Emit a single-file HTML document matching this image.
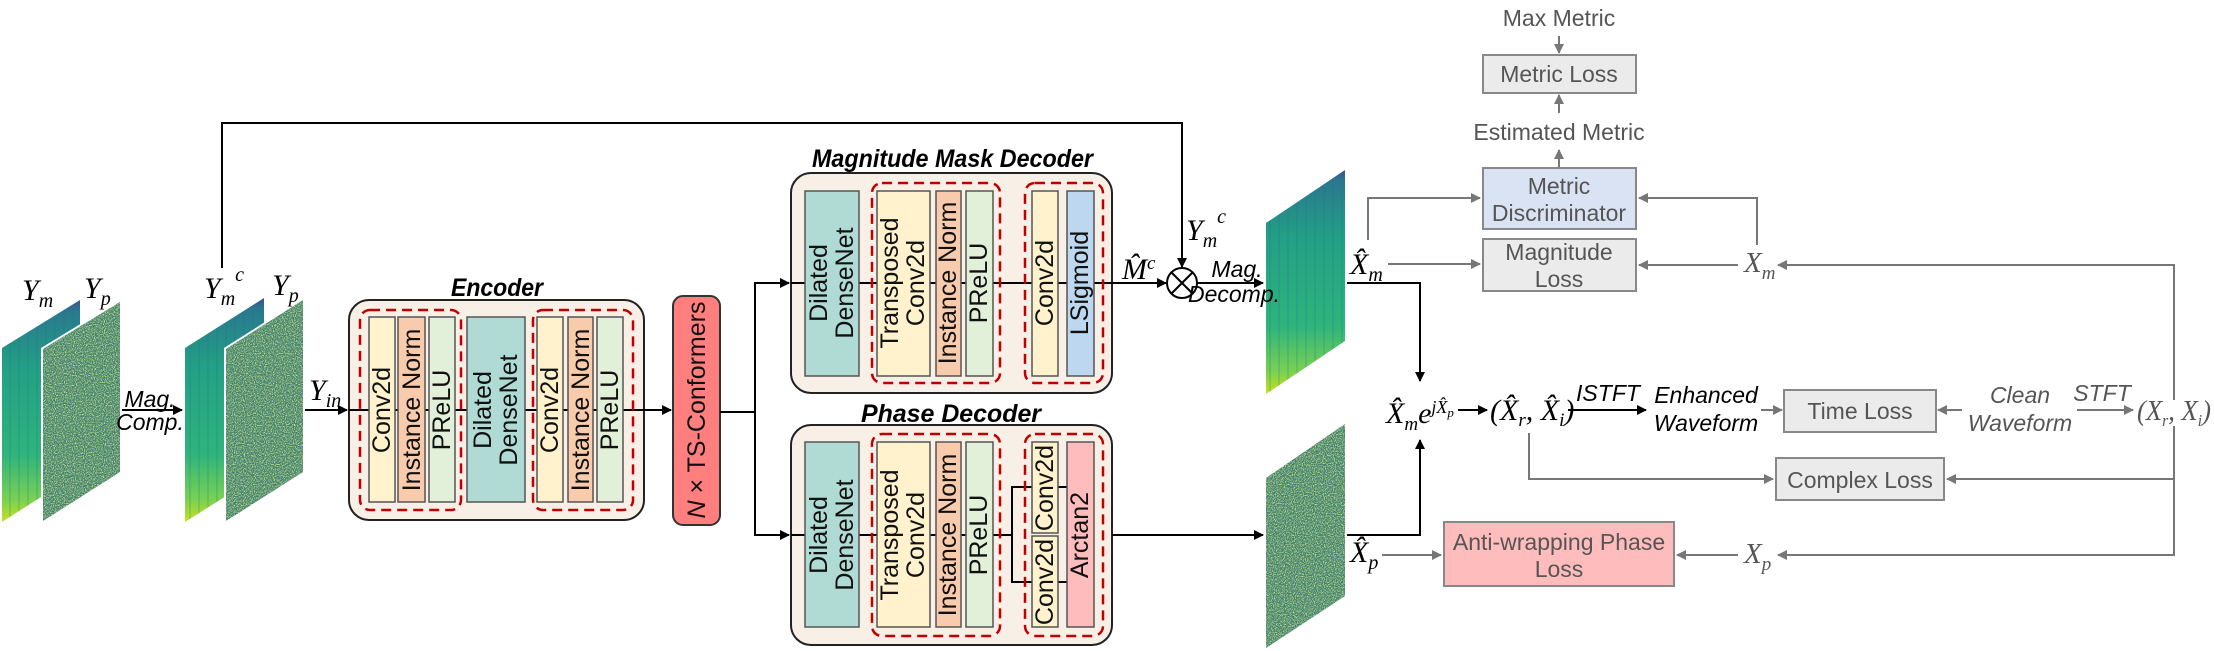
<!DOCTYPE html>
<html><head><meta charset="utf-8"><style>
html,body{margin:0;padding:0;background:#fff;}
svg{display:block;}
.blk{stroke:#555;stroke-width:1.5;}
.lbl{font-family:"Liberation Sans",sans-serif;font-size:25px;fill:#111;}
.ttl{font-family:"Liberation Sans Narrow","Liberation Sans",sans-serif;font-size:25px;font-weight:bold;font-style:italic;fill:#000;}
.gl{font-family:"Liberation Sans Narrow","Liberation Sans",sans-serif;font-size:23px;fill:#555;}
.gi{font-family:"Liberation Sans Narrow","Liberation Sans",sans-serif;font-size:23px;font-style:italic;fill:#555;}
.bi{font-family:"Liberation Sans Narrow","Liberation Sans",sans-serif;font-size:23px;font-style:italic;fill:#000;}
.m{font-family:"Liberation Serif",serif;font-style:italic;font-size:30px;fill:#000;}
.mg{font-family:"Liberation Serif",serif;font-style:italic;font-size:29px;fill:#555;}
.dash{fill:none;stroke:#c00000;stroke-width:2.5;stroke-dasharray:10 6;}
.ln{stroke:#000;stroke-width:2;fill:none;}
.gln{stroke:#777;stroke-width:2;fill:none;}
.gbox{fill:#ebebeb;stroke:#888;stroke-width:2;}
</style></head><body>
<svg width="2214" height="651" viewBox="0 0 2214 651" xmlns="http://www.w3.org/2000/svg">
<defs>
<marker id="ab" markerWidth="10" markerHeight="10" refX="9" refY="5" orient="auto" markerUnits="userSpaceOnUse"><path d="M0,0 L10,5 L0,10 z" fill="#000"/></marker>
<marker id="ag" markerWidth="10" markerHeight="10" refX="9" refY="5" orient="auto" markerUnits="userSpaceOnUse"><path d="M0,0 L10,5 L0,10 z" fill="#777"/></marker>
<linearGradient id="mag" x1="0" y1="0" x2="0" y2="1">
<stop offset="0" stop-color="#3b528b"/><stop offset="0.05" stop-color="#2a788e"/><stop offset="0.3" stop-color="#22a085"/><stop offset="0.7" stop-color="#2fb47c"/><stop offset="0.9" stop-color="#7ad151"/><stop offset="1" stop-color="#c8e020"/>
</linearGradient>
<pattern id="stripes" width="9" height="10" patternUnits="userSpaceOnUse"><rect x="0" y="0" width="2" height="10" fill="#1f6f8b" opacity="0.18"/></pattern>
<filter id="noise" x="0" y="0" width="100%" height="100%">
<feTurbulence type="fractalNoise" baseFrequency="0.9" numOctaves="2" seed="3" result="t"/>
<feColorMatrix in="t" type="matrix" values="0 0 0 0 0.75  0 0 0 0 0.85  0 0 0 0 0.2  0 0 0 3 -1.3" result="c"/>
<feComposite in="c" in2="SourceGraphic" operator="in"/>
</filter>
</defs>

<g>
<polygon points="2,348 80,300 80,472 2,522" fill="url(#mag)"/>
<polygon points="2,348 80,300 80,472 2,522" fill="url(#stripes)"/>
<polygon points="41,348 120,300 120,472 41,522" fill="#fff"/>
<polygon points="43,349 120,302 120,472 43,521" fill="#3d7f78"/>
<polygon points="43,349 120,302 120,472 43,521" fill="#000" filter="url(#noise)"/>

<polygon points="185,348 264,298 264,472 185,522" fill="url(#mag)"/>
<polygon points="185,348 264,298 264,472 185,522" fill="url(#stripes)"/>
<polygon points="224,348 303,298 303,472 224,522" fill="#fff"/>
<polygon points="226,349 303,300 303,472 226,521" fill="#3d7f78"/>
<polygon points="226,349 303,300 303,472 226,521" fill="#000" filter="url(#noise)"/>

<polygon points="1266,223 1345,170 1345,341 1266,394" fill="url(#mag)"/>
<polygon points="1266,223 1345,170 1345,341 1266,394" fill="url(#stripes)"/>

<polygon points="1266,478 1345,424 1345,596 1266,648" fill="#3d7f78"/>
<polygon points="1266,478 1345,424 1345,596 1266,648" fill="#000" filter="url(#noise)"/>
</g>

<text class="m" x="22" y="300">Y<tspan font-size="20" dy="7">m</tspan></text>
<text class="m" x="84" y="298">Y<tspan font-size="20" dy="7">p</tspan></text>
<text class="m" x="204" y="298">Y<tspan font-size="20" dy="7">m</tspan><tspan font-size="20" dy="-24">c</tspan></text>
<text class="m" x="272" y="295">Y<tspan font-size="20" dy="7">p</tspan></text>
<text class="bi" x="150" y="407" text-anchor="middle" font-size="19" fill="#000">Mag.</text>
<text class="bi" x="150" y="430" text-anchor="middle" font-size="19" fill="#000">Comp.</text>
<line class="ln" x1="122" y1="410" x2="182" y2="410" marker-end="url(#ab)"/>
<text class="m" x="309" y="400">Y<tspan font-size="20" dy="7">in</tspan></text>
<line class="ln" x1="305" y1="410" x2="347" y2="410" marker-end="url(#ab)"/>

<polyline class="ln" points="222,268 222,123 1182,123 1182,267" marker-end="url(#ab)"/>

<text class="ttl" x="451" y="296" textLength="92" lengthAdjust="spacingAndGlyphs">Encoder</text>
<rect x="349" y="300" width="295" height="220" rx="20" fill="#f8efe6" stroke="#222" stroke-width="2"/>
<line class="ln" x1="349" y1="410" x2="644" y2="410" stroke-width="1.5"/>
<rect class="dash" x="360" y="310" width="101" height="200" rx="10"/>
<rect class="dash" x="533" y="310" width="100" height="200" rx="10"/>
<rect class="blk" x="369" y="317" width="26" height="185" fill="#fff2cc"/>
<rect class="blk" x="398" y="317" width="27" height="185" fill="#f8cbad"/>
<rect class="blk" x="429" y="317" width="26" height="185" fill="#e2f0d9"/>
<rect class="blk" x="467" y="317" width="58" height="185" fill="#b0dbd5"/>
<rect class="blk" x="537" y="317" width="26" height="185" fill="#fff2cc"/>
<rect class="blk" x="568" y="317" width="25" height="185" fill="#f8cbad"/>
<rect class="blk" x="597" y="317" width="26" height="185" fill="#e2f0d9"/>
<g class="lbl" text-anchor="middle" dominant-baseline="central">
<text transform="translate(382,410) rotate(-90)">Conv2d</text>
<text transform="translate(412,410) rotate(-90)">Instance Norm</text>
<text transform="translate(442,410) rotate(-90)">PReLU</text>
<text transform="translate(496,410) rotate(-90)"><tspan x="0" y="-13">Dilated</tspan><tspan x="0" y="13">DenseNet</tspan></text>
<text transform="translate(550,410) rotate(-90)">Conv2d</text>
<text transform="translate(581,410) rotate(-90)">Instance Norm</text>
<text transform="translate(610,410) rotate(-90)">PReLU</text>
</g>
<line class="ln" x1="644" y1="410" x2="671" y2="410" marker-end="url(#ab)"/>

<rect x="673" y="296" width="47" height="229" rx="10" fill="#ff7f7f" stroke="#333" stroke-width="2"/>
<text class="lbl" font-size="26" transform="translate(697,410) rotate(-90)" text-anchor="middle" dominant-baseline="central"><tspan font-style="italic">N</tspan> × TS-Conformers</text>
<line class="ln" x1="720" y1="412" x2="755" y2="412"/>
<polyline class="ln" points="755,412 755,283 789,283" marker-end="url(#ab)"/>
<polyline class="ln" points="755,412 755,535 789,535" marker-end="url(#ab)"/>

<text class="ttl" x="812" y="167" textLength="281" lengthAdjust="spacingAndGlyphs">Magnitude Mask Decoder</text>
<rect x="791" y="173" width="321" height="220" rx="20" fill="#f8efe6" stroke="#222" stroke-width="2"/>
<line class="ln" x1="791" y1="283" x2="1112" y2="283" stroke-width="1.5"/>
<rect class="dash" x="872" y="183" width="128" height="200" rx="10"/>
<rect class="dash" x="1025" y="183" width="78" height="200" rx="10"/>
<rect class="blk" x="805" y="191" width="54" height="185" fill="#b0dbd5"/>
<rect class="blk" x="877" y="191" width="53" height="185" fill="#fff2cc"/>
<rect class="blk" x="936" y="191" width="25" height="185" fill="#f8cbad"/>
<rect class="blk" x="966" y="191" width="27" height="185" fill="#e2f0d9"/>
<rect class="blk" x="1032" y="191" width="26" height="185" fill="#fff2cc"/>
<rect class="blk" x="1067" y="191" width="27" height="185" fill="#bdd7ee"/>
<g class="lbl" text-anchor="middle" dominant-baseline="central">
<text transform="translate(832,283) rotate(-90)"><tspan x="0" y="-13">Dilated</tspan><tspan x="0" y="13">DenseNet</tspan></text>
<text transform="translate(903,283) rotate(-90)"><tspan x="0" y="-13">Transposed</tspan><tspan x="0" y="13">Conv2d</tspan></text>
<text transform="translate(948,283) rotate(-90)">Instance Norm</text>
<text transform="translate(979,283) rotate(-90)">PReLU</text>
<text transform="translate(1045,283) rotate(-90)">Conv2d</text>
<text transform="translate(1080,283) rotate(-90)">LSigmoid</text>
</g>
<text class="m" x="1122" y="279">M̂<tspan font-size="19" dy="-10">c</tspan></text>
<line class="ln" x1="1112" y1="283" x2="1166" y2="283" marker-end="url(#ab)"/>
<circle cx="1182" cy="283" r="15" fill="#fff" stroke="#000" stroke-width="2"/>
<line x1="1171" y1="272" x2="1193" y2="294" stroke="#000" stroke-width="2"/>
<line x1="1193" y1="272" x2="1171" y2="294" stroke="#000" stroke-width="2"/>
<text class="m" x="1186" y="240">Y<tspan font-size="20" dy="7">m</tspan><tspan font-size="20" dy="-24">c</tspan></text>
<line class="ln" x1="1197" y1="283" x2="1263" y2="283" marker-end="url(#ab)"/>
<text class="bi" x="1237" y="277" text-anchor="middle" font-size="19">Mag.</text>
<text class="bi" x="1234" y="302" text-anchor="middle" font-size="19">Decomp.</text>

<text class="ttl" x="861" y="422" textLength="180" lengthAdjust="spacingAndGlyphs">Phase Decoder</text>
<rect x="791" y="425" width="321" height="220" rx="20" fill="#f8efe6" stroke="#222" stroke-width="2"/>
<line class="ln" x1="791" y1="535" x2="1012" y2="535" stroke-width="1.5"/>
<polyline class="ln" stroke-width="1.5" points="1032,487 1012,487 1012,582 1032,582"/>
<line class="ln" stroke-width="1.5" x1="1058" y1="487" x2="1067" y2="487"/>
<line class="ln" stroke-width="1.5" x1="1058" y1="582" x2="1067" y2="582"/>
<rect class="dash" x="872" y="434" width="128" height="202" rx="10"/>
<rect class="dash" x="1025" y="434" width="78" height="202" rx="10"/>
<rect class="blk" x="805" y="442" width="54" height="185" fill="#b0dbd5"/>
<rect class="blk" x="877" y="442" width="53" height="185" fill="#fff2cc"/>
<rect class="blk" x="936" y="442" width="25" height="185" fill="#f8cbad"/>
<rect class="blk" x="966" y="442" width="27" height="185" fill="#e2f0d9"/>
<rect class="blk" x="1032" y="442" width="26" height="91" fill="#fff2cc"/>
<rect class="blk" x="1032" y="536" width="26" height="91" fill="#fff2cc"/>
<rect class="blk" x="1067" y="442" width="27" height="185" fill="#ffbcbc"/>
<g class="lbl" text-anchor="middle" dominant-baseline="central">
<text transform="translate(832,535) rotate(-90)"><tspan x="0" y="-13">Dilated</tspan><tspan x="0" y="13">DenseNet</tspan></text>
<text transform="translate(903,535) rotate(-90)"><tspan x="0" y="-13">Transposed</tspan><tspan x="0" y="13">Conv2d</tspan></text>
<text transform="translate(948,535) rotate(-90)">Instance Norm</text>
<text transform="translate(979,535) rotate(-90)">PReLU</text>
<text transform="translate(1045,488) rotate(-90)">Conv2d</text>
<text transform="translate(1045,582) rotate(-90)">Conv2d</text>
<text transform="translate(1080,535) rotate(-90)">Arctan2</text>
</g>
<line class="ln" x1="1112" y1="535" x2="1263" y2="535" marker-end="url(#ab)"/>

<text class="m" x="1350" y="274">X̂<tspan font-size="20" dy="7">m</tspan></text>
<text class="m" x="1350" y="562">X̂<tspan font-size="20" dy="7">p</tspan></text>
<polyline class="ln" points="1347,283 1420,283 1420,381" marker-end="url(#ab)"/>
<polyline class="ln" points="1347,535 1420,535 1420,440" marker-end="url(#ab)"/>
<text class="m" x="1386" y="423">X̂<tspan font-size="19" dy="7">m</tspan><tspan dy="-7">e</tspan><tspan font-size="18" dy="-10">jX̂</tspan><tspan font-size="13" dy="4">p</tspan></text>
<line class="ln" x1="1458" y1="410" x2="1487" y2="410" marker-end="url(#ab)"/>
<text class="m" x="1490" y="420">(X̂<tspan font-size="19" dy="6">r</tspan><tspan dy="-6">, X̂</tspan><tspan font-size="19" dy="6">i</tspan><tspan dy="-6">)</tspan></text>
<line class="ln" x1="1568" y1="410" x2="1646" y2="410" marker-end="url(#ab)"/>
<text class="bi" x="1608" y="401" text-anchor="middle" font-size="20">ISTFT</text>
<text class="bi" x="1706" y="403" text-anchor="middle" font-size="25">Enhanced</text>
<text class="bi" x="1706" y="431" text-anchor="middle" font-size="25">Waveform</text>
<line class="gln" x1="1761" y1="410" x2="1782" y2="410" marker-end="url(#ag)"/>
<rect class="gbox" x="1784" y="390" width="152" height="42"/>
<text class="gl" x="1860" y="419" text-anchor="middle" font-size="25">Time Loss</text>
<line class="gln" x1="1962" y1="410" x2="1938" y2="410" marker-end="url(#ag)"/>
<text class="gi" x="2020" y="403" text-anchor="middle" font-size="25">Clean</text>
<text class="gi" x="2020" y="431" text-anchor="middle" font-size="25">Waveform</text>
<line class="gln" x1="2077" y1="410" x2="2133" y2="410" marker-end="url(#ag)"/>
<text class="gi" x="2102" y="401" text-anchor="middle" font-size="20">STFT</text>
<text class="mg" x="2137" y="420" font-size="26" textLength="74" lengthAdjust="spacingAndGlyphs">(X<tspan font-size="17" dy="6">r</tspan><tspan dy="-6">, X</tspan><tspan font-size="17" dy="6">i</tspan><tspan dy="-6">)</tspan></text>

<text class="gl" x="1559" y="26" text-anchor="middle">Max Metric</text>
<line class="gln" x1="1559" y1="36" x2="1559" y2="53" marker-end="url(#ag)"/>
<rect class="gbox" x="1483" y="55" width="153" height="38"/>
<text class="gl" x="1559" y="82" text-anchor="middle" font-size="25">Metric Loss</text>
<line class="gln" x1="1559" y1="113" x2="1559" y2="95" marker-end="url(#ag)"/>
<text class="gl" x="1559" y="140" text-anchor="middle" font-size="25">Estimated Metric</text>
<line class="gln" x1="1559" y1="167" x2="1559" y2="150" marker-end="url(#ag)"/>
<rect x="1483" y="168" width="153" height="61" fill="#dae3f3" stroke="#888" stroke-width="2"/>
<text class="gl" x="1559" y="194" text-anchor="middle" font-size="25">Metric</text>
<text class="gl" x="1559" y="221" text-anchor="middle" font-size="25">Discriminator</text>
<rect class="gbox" x="1483" y="239" width="153" height="52"/>
<text class="gl" x="1559" y="260" text-anchor="middle" font-size="25">Magnitude</text>
<text class="gl" x="1559" y="287" text-anchor="middle" font-size="25">Loss</text>
<polyline class="gln" points="1368,240 1368,198 1480,198" marker-end="url(#ag)"/>
<line class="gln" x1="1388" y1="264" x2="1480" y2="264" marker-end="url(#ag)"/>
<polyline class="gln" points="1757,245 1757,198 1639,198" marker-end="url(#ag)"/>
<line class="gln" x1="1738" y1="265" x2="1639" y2="265" marker-end="url(#ag)"/>
<text class="mg" x="1744" y="272">X<tspan font-size="19" dy="7">m</tspan></text>
<polyline class="gln" points="2174,400 2174,265 1778,265" marker-end="url(#ag)"/>
<polyline class="gln" points="2174,426 2174,555 1778,555" marker-end="url(#ag)"/>
<line class="gln" x1="2174" y1="479" x2="1947" y2="479" marker-end="url(#ag)"/>
<polyline class="gln" points="1529,433 1529,479 1773,479" marker-end="url(#ag)"/>
<rect class="gbox" x="1776" y="458" width="168" height="42"/>
<text class="gl" x="1860" y="488" text-anchor="middle" font-size="25">Complex Loss</text>
<rect x="1444" y="522" width="230" height="64" fill="#ffbcbc" stroke="#888" stroke-width="2"/>
<text class="gl" x="1559" y="550" text-anchor="middle" font-size="25">Anti-wrapping Phase</text>
<text class="gl" x="1559" y="577" text-anchor="middle" font-size="25">Loss</text>
<line class="gln" x1="1382" y1="555" x2="1441" y2="555" marker-end="url(#ag)"/>
<line class="gln" x1="1738" y1="555" x2="1677" y2="555" marker-end="url(#ag)"/>
<text class="mg" x="1744" y="563">X<tspan font-size="19" dy="7">p</tspan></text>
</svg>
</body></html>
